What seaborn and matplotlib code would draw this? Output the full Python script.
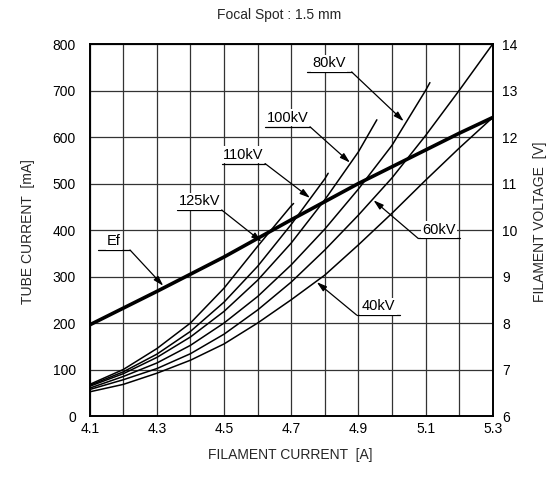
import numpy as np
import pandas as pd
import seaborn as sns
import matplotlib.pyplot as plt

sns.set_theme(style="white")
plt.rcParams['font.family'] = ['Liberation Sans', 'DejaVu Sans']

# Tube current [mA] vs filament current [A]
amps_40 = [4.1, 4.2, 4.3, 4.4, 4.5, 4.6, 4.7, 4.8, 4.9, 5.0, 5.1, 5.2, 5.3]
ma_40 = [52, 68, 92, 120, 155, 200, 250, 303, 368, 436, 507, 576, 642]

amps_60 = [4.1, 4.2, 4.3, 4.4, 4.5, 4.6, 4.7, 4.8, 4.9, 5.0, 5.1, 5.2, 5.3]
ma_60 = [57, 78, 102, 134, 176, 228, 288, 357, 432, 512, 603, 700, 800]

amps_80 = [4.1, 4.2, 4.3, 4.4, 4.5, 4.6, 4.7, 4.8, 4.9, 5.0, 5.1, 5.113]
ma_80 = [60, 85, 114, 152, 200, 257, 325, 402, 488, 582, 700, 717]

amps_100 = [4.1, 4.2, 4.3, 4.4, 4.5, 4.6, 4.7, 4.8, 4.9, 4.955]
ma_100 = [64, 91, 126, 170, 225, 292, 372, 465, 568, 637]

amps_110 = [4.1, 4.2, 4.3, 4.4, 4.5, 4.6, 4.7, 4.8, 4.81]
ma_110 = [66, 95, 133, 182, 245, 322, 412, 510, 522]

amps_125 = [4.1, 4.2, 4.3, 4.4, 4.5, 4.6, 4.7, 4.707]
ma_125 = [68, 100, 145, 200, 275, 365, 452, 457]

kv_names = ['40kV', '60kV', '80kV', '100kV', '110kV', '125kV']

# Filament voltage Ef [V]
ef_amps = [4.1, 4.2, 4.3, 4.4, 4.5, 4.6, 4.7, 4.8, 4.9, 5.0, 5.1, 5.2, 5.3]
ef_volts = [7.96, 8.32, 8.68, 9.05, 9.42, 9.82, 10.22, 10.61, 11.0, 11.36, 11.72, 12.08, 12.42]

curves = pd.concat([
    pd.DataFrame({'current': a, 'ma': m, 'kv': k})
    for a, m, k in zip([amps_40, amps_60, amps_80, amps_100, amps_110, amps_125],
                       [ma_40, ma_60, ma_80, ma_100, ma_110, ma_125], kv_names)
])
ef = pd.DataFrame({'current': ef_amps, 'volt': ef_volts})

fig = plt.figure(figsize=(5.59, 4.78), dpi=100)
ax = fig.add_axes([0.1605, 0.1297, 0.7209, 0.7782])

sns.lineplot(data=curves, x='current', y='ma', units='kv', estimator=None, sort=False,
             color='black', linewidth=1.1, ax=ax, legend=False)

ax.set_xlim(4.1, 5.3)
ax.set_ylim(0, 800)
ax.set_xticks(np.arange(4.1, 5.31, 0.2))
ax.set_xticks(np.arange(4.2, 5.3, 0.2), minor=True)
ax.set_xticklabels(['4.1', '4.3', '4.5', '4.7', '4.9', '5.1', '5.3'])
ax.set_yticks(np.arange(0, 801, 100))
ax.grid(True, which='both', color='#333333', linewidth=0.9)
ax.tick_params(axis='both', which='both', length=0, labelsize=10, colors='black')
ax.tick_params(axis='y', pad=10)
ax.tick_params(axis='x', pad=4)
ax.set_xlabel('')
ax.set_ylabel('')
for s in ax.spines.values():
    s.set_color('black')
    s.set_linewidth(1.4)

ax2 = ax.twinx()
sns.lineplot(data=ef, x='current', y='volt', color='black', linewidth=2.6, ax=ax2)
ax2.set_ylim(6, 14)
ax2.set_yticks(np.arange(6, 15, 1))
ax2.tick_params(axis='y', length=0, labelsize=10, pad=7, colors='black')
ax2.set_ylabel('')
ax2.grid(False)
for s in ax2.spines.values():
    s.set_visible(False)

# curve labels: text, underline start, underline end, arrow tip, leader side
labels = ['80kV', '100kV', '110kV', '125kV', 'Ef', '60kV', '40kV']
underline_x = [(4.746, 4.880), (4.622, 4.756), (4.493, 4.622), (4.359, 4.493),
               (4.125, 4.220), (5.078, 5.203), (4.895, 5.024)]
underline_y = [740, 622, 543, 443, 357, 382, 217]
tips = [(5.035, 634), (4.875, 545), (4.756, 469), (4.612, 375),
        (4.319, 280), (4.945, 464), (4.776, 288)]
leader_from_right = [True, True, True, True, True, False, False]

for lab, (x0, x1), uy, tip, right in zip(labels, underline_x, underline_y, tips, leader_from_right):
    ax.plot([x0, x1], [uy, uy], color='black', linewidth=0.9, zorder=4)
    start = (x1, uy) if right else (x0, uy)
    ax.annotate('', xy=tip, xytext=start,
                arrowprops=dict(arrowstyle='-|>,head_length=0.5,head_width=0.15',
                                color='black', lw=0.9, shrinkA=0, shrinkB=0), zorder=4)
    ax.text((x0 + x1) / 2, uy + 4, lab, ha='center', va='bottom', fontsize=10.5,
            color='black', zorder=5,
            bbox=dict(boxstyle='square,pad=0.1', facecolor='white', edgecolor='none'))

fig.text(0.5, 1 - 15 / 478, 'Focal Spot : 1.5 mm', ha='center', va='center', fontsize=10)
fig.text(28 / 559, 1 - 232 / 478, 'TUBE CURRENT  [mA]', rotation=90, ha='center', va='center', fontsize=10)
fig.text(540 / 559, 1 - 222 / 478, 'FILAMENT VOLTAGE  [V]', rotation=90, ha='center', va='center', fontsize=10)
fig.text(290 / 559, 1 - 455 / 478, 'FILAMENT CURRENT  [A]', ha='center', va='center', fontsize=10)

fig.savefig('out.png', dpi=100, facecolor='white')
